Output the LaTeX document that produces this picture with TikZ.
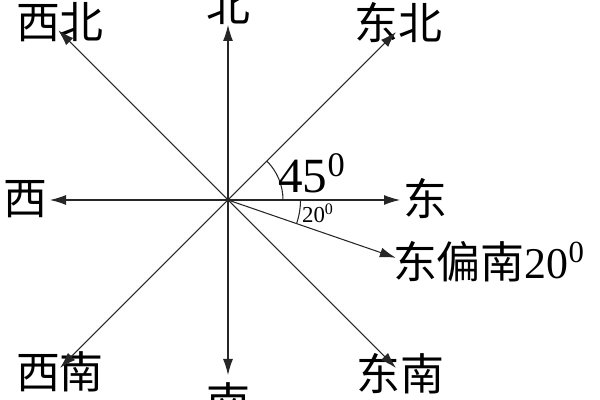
\documentclass[tikz,border=0pt]{standalone}
\usepackage{fontspec}
\setmainfont{Liberation Serif}
\newfontfamily\cjk{Noto Sans CJK SC}
\usetikzlibrary{arrows.meta,calc}
\begin{document}
\begin{tikzpicture}[
    dir/.style={font=\cjk\fontsize{25}{28}\selectfont, inner sep=0pt},
    deg/.style={font=\fontsize{28}{30}\selectfont, inner sep=0pt},
    ray/.style={-{Latex[length=3.2mm,width=2mm]}, line width=0.6pt, black!85}
  ]
  \clip (0,0) rectangle (12,8);
  \coordinate (O) at (4.56,4);
  % labels round the centre
  \draw
    (8.5,4.02) node[dir] (E){东}
    (7.96,7.55) node[dir] (NE){东北}
    (4.56,7.9) node[dir] (N){北}
    (1.2,7.55) node[dir] (NW){西北}
    (0.5,4.02) node[dir] (W){西}
    (1.2,0.56) node[dir] (SW){西南}
    (4.56,-0.05) node[dir] (S){南}
    (8.0,0.52) node[dir] (SE){东南}
    (9.78,2.76) node[dir] (ESE){东偏南{\rmfamily 20$^{\mathrm{0}}$}};
  % arrow tips
  \coordinate (tE) at (8.0,4);
  \coordinate (tN) at (4.56,7.5);
  \coordinate (tW) at (1.0,4);
  \coordinate (tS) at (4.56,0.5);
  \coordinate (tNE) at ($(O)+(45:4.75)$);
  \coordinate (tNW) at ($(O)+(135:4.8)$);
  \coordinate (tSW) at ($(O)+(225:4.75)$);
  \coordinate (tSE) at ($(O)+(-45:4.75)$);
  \coordinate (tESE) at ($(O)+(-19:3.55)$);
  \begin{scope}[ray]
    \draw (O) to (tE);
    \draw (O) to (tN);
    \draw (O) to (tW);
    \draw (O) to (tS);
    \draw (O) to (tNE);
    \draw (O) to (tNW);
    \draw (O) to (tSW);
    \draw (O) to (tSE);
    \draw (O) to (tESE);
  \end{scope}
  % angle marks
  \draw[line width=0.6pt, black!85] ($(O)+(0:1.1)$) arc (0:45:1.1);
  \draw[line width=0.6pt, black!85] ($(O)+(0:1.45)$) arc (0:-19:1.45);
  \node[deg] (a45) at (6.24,4.54) {45$^{\mathrm{0}}$};
  \node[font=\fontsize{13}{15}\selectfont, inner sep=0pt] (a20) at (6.36,3.74) {20$^{\mathrm{0}}$};
\end{tikzpicture}
\end{document}
